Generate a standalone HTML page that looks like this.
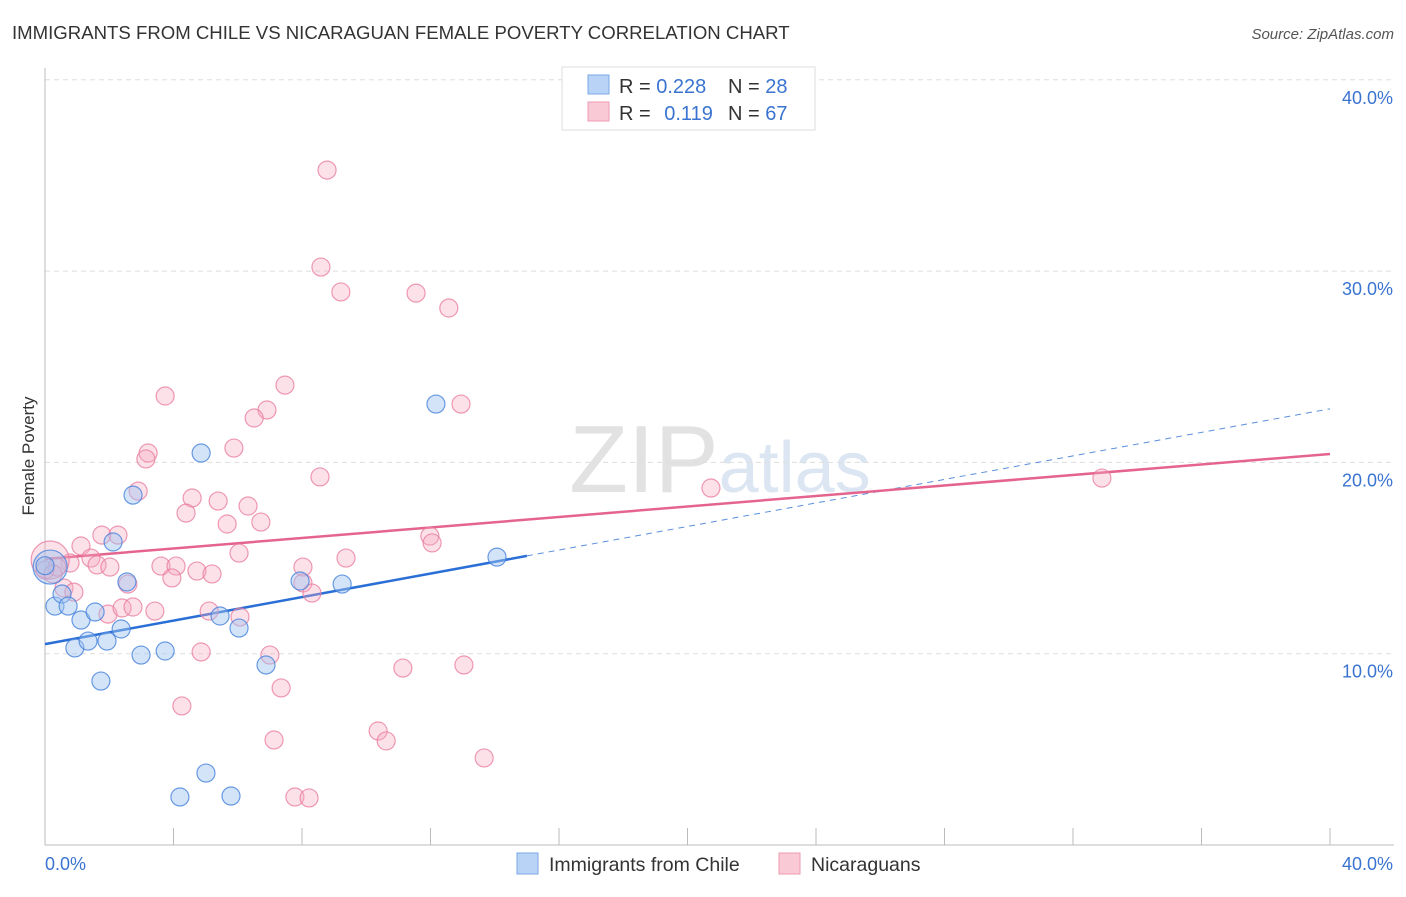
<!DOCTYPE html>
<html><head><meta charset="utf-8"><style>
body{margin:0;background:#fff;font-family:"Liberation Sans",sans-serif;}
svg text{font-family:"Liberation Sans",sans-serif;}
</style></head><body>
<svg id="chart" width="1406" height="892" xmlns="http://www.w3.org/2000/svg">
<text x="12" y="39" font-size="18.6" fill="#333">IMMIGRANTS FROM CHILE VS NICARAGUAN FEMALE POVERTY CORRELATION CHART</text>
<text x="1394" y="39" font-size="15" fill="#555" font-style="italic" text-anchor="end">Source: ZipAtlas.com</text>
<text x="720" y="492" font-size="96" fill="#e8e8e8" text-anchor="middle" font-family="Liberation Serif"><tspan fill="#e2e2e2">ZIP</tspan><tspan fill="#dce6f3" font-family="Liberation Sans" font-size="72">atlas</tspan></text>
<g id="grid"></g>
<g id="axes"></g>
<g id="trends"></g>
<g id="points"></g>
<text x="34" y="456" font-size="17" fill="#333" text-anchor="middle" transform="rotate(-90 34 456)">Female Poverty</text>
<g>
<rect x="562" y="67" width="253" height="63" fill="#fff" stroke="#ddd"/>
<rect x="588" y="75" width="21" height="19" fill="#b8d3f5" stroke="#7aa7e6"/>
<rect x="588" y="102" width="21" height="19" fill="#f9c9d6" stroke="#ef9ab3"/>
<text x="619" y="93" font-size="20" fill="#333">R = <tspan fill="#3a74d0">0.228</tspan></text>
<text x="728" y="93" font-size="20" fill="#333">N = <tspan fill="#3a74d0">28</tspan></text>
<text x="619" y="120" font-size="20" fill="#333">R = <tspan fill="#3a74d0" dx="8">0.119</tspan></text>
<text x="728" y="120" font-size="20" fill="#333">N = <tspan fill="#3a74d0">67</tspan></text>
</g>
<g>
<rect x="517" y="853" width="21" height="21" fill="#b8d3f5" stroke="#7aa7e6"/>
<text x="549" y="871" font-size="19.5" fill="#333">Immigrants from Chile</text>
<rect x="779" y="853" width="21" height="21" fill="#f9c9d6" stroke="#ef9ab3"/>
<text x="811" y="871" font-size="19.5" fill="#333">Nicaraguans</text>
</g>
</svg>
<script>
const blueX=[0.16,0.31,0.53,0.72,0.93,1.12,1.34,1.56,1.74,1.93,2.12,2.37,2.55,2.74,2.99,3.74,4.20,4.86,5.01,5.45,5.79,6.04,6.88,7.94,9.25,12.17,14.07,0];
const blueY=[14.53,12.49,13.12,12.49,10.30,11.76,10.66,12.18,8.57,10.66,15.84,11.29,13.75,18.29,9.93,10.14,2.51,20.49,3.76,11.97,2.56,11.34,9.41,13.80,13.64,23.05,15.05,14.6];
const pinkX=[8.78,8.59,9.21,11.55,12.57,7.47,3.74,6.91,12.95,6.51,5.88,3.21,3.14,8.56,2.90,4.58,5.39,6.32,4.39,5.67,6.72,1.77,2.27,11.98,12.05,20.73,32.90,1.12,1.43,6.04,9.37,0.78,1.62,2.02,0.16,0.37,3.61,4.08,4.73,5.20,3.95,8.03,8.03,2.58,0.59,0.90,8.31,1.96,2.40,2.74,3.42,5.11,6.07,4.86,7.00,7.35,11.14,13.04,4.26,7.13,10.37,10.62,13.67,7.78,8.22,0,0.25];
const pinkY=[35.28,30.21,28.91,28.85,28.07,24.04,23.47,22.74,23.05,22.32,20.75,20.49,20.18,19.24,18.50,18.14,17.98,17.72,17.35,16.78,16.88,16.20,16.20,16.15,15.79,18.66,19.18,15.63,15.00,15.26,15.00,14.74,14.64,14.53,14.90,14.53,14.58,14.58,14.32,14.17,13.96,14.53,13.70,13.64,13.43,13.22,13.17,12.07,12.39,12.44,12.23,12.23,11.92,10.09,9.93,8.21,9.25,9.41,7.27,5.49,5.96,5.44,4.55,2.51,2.46,14.37,14.17];
const blueTrend=[10.5,22.8];
const pinkTrend=[14.95,20.44];
const blueSolidEnd=15;
const yTicks=[10,20,30,40];
const yTickLabels=["10.0%","20.0%","30.0%","40.0%"];
const xTickLabels=["0.0%","40.0%"];
const NS="http://www.w3.org/2000/svg";
const X0=45,X1=1330,YB=845,PX=19.13;
const sx=v=>X0+(v/40)*(X1-X0);
const sy=v=>YB-v*PX;
function mk(parent,tag,attrs){const e=document.createElementNS(NS,tag);for(const k in attrs)e.setAttribute(k,attrs[k]);document.getElementById(parent).appendChild(e);return e;}
yTicks.forEach((t,i)=>{
 const g=mk('grid','line',{x1:X0,x2:1394,y1:sy(t),y2:sy(t),stroke:'#ddd','stroke-dasharray':'5,4'});
 
 
 const l=mk('grid','text',{x:1393,y:sy(t)+24,'font-size':18,fill:'#3a74d0','text-anchor':'end'});
 l.textContent=yTickLabels[i];
 
 
});
const ya=mk('axes','line',{x1:X0,x2:X0,y1:68,y2:YB,stroke:'#bbb'});


const xa=mk('axes','line',{x1:X0,x2:1394,y1:YB,y2:YB,stroke:'#bbb'});


for(let i=0;i<=10;i++){
 const t=mk('axes','line',{x1:sx(i*4),x2:sx(i*4),y1:828,y2:YB,stroke:'#bbb'});
 
 
}
[[0,'start',45],[40,'end',1393]].forEach((d,i)=>{
 const l=mk('axes','text',{x:d[2],y:870,'font-size':18,fill:'#3a74d0','text-anchor':d[1]});
 l.textContent=xTickLabels[i];
 
 
});
function pt(x,y,r,fill,stroke,name){
 const c=mk('points','circle',{cx:sx(x),cy:sy(y),r:r,fill:fill,stroke:stroke,'stroke-width':1.2});
 
 
}
pinkX.forEach((x,i)=>pt(x,pinkY[i],(i===34)?19:9,'rgba(246,170,192,0.35)','rgba(232,120,155,0.75)','point-nicaraguans'));
blueX.forEach((x,i)=>pt(x,blueY[i],(i===0)?17:9,'rgba(160,195,240,0.45)','rgba(70,130,220,0.8)','point-chile'));
const at=(tr,x)=>tr[0]+(tr[1]-tr[0])*x/40;
let l=mk('trends','line',{x1:sx(0),y1:sy(at(blueTrend,0)),x2:sx(blueSolidEnd),y2:sy(at(blueTrend,blueSolidEnd)),stroke:'#2a6fd6','stroke-width':2.5});


l=mk('trends','line',{x1:sx(blueSolidEnd),y1:sy(at(blueTrend,blueSolidEnd)),x2:sx(40),y2:sy(at(blueTrend,40)),stroke:'#5b8fdc','stroke-width':1,'stroke-dasharray':'6,5'});


l=mk('trends','line',{x1:sx(0),y1:sy(pinkTrend[0]),x2:sx(40),y2:sy(pinkTrend[1]),stroke:'#e4648e','stroke-width':2.5});


</script>
</body></html>
